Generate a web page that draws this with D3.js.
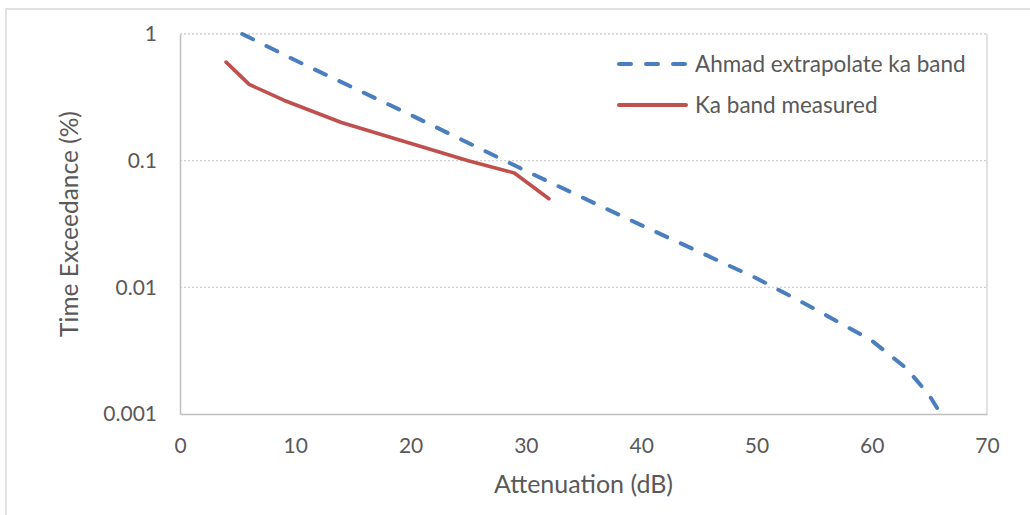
<!DOCTYPE html>
<html>
<head>
<meta charset="utf-8">
<script src="https://cdn.jsdelivr.net/npm/d3@7"></script>
<style>
  html, body { margin: 0; padding: 0; background: #fff; }
  svg { display: block; font-family: Lato, "Open Sans", sans-serif; }
</style>
</head>
<body>
<svg id="chart" width="1030" height="515"></svg>
<script>
// Attenuation (dB) vs time exceedance (%), log scale
const extrapAtten = [5.4, 10, 20, 30, 40, 50, 55, 60, 63, 65, 66];
const extrapPct   = [1, 0.62, 0.23, 0.083, 0.031, 0.0118, 0.0068, 0.0038, 0.0023, 0.0014, 0.001];

const measAtten = [4, 6, 9, 14, 25, 29, 32];
const measPct   = [0.6, 0.4, 0.3, 0.2, 0.1, 0.08, 0.05];

const xTicks = [0, 10, 20, 30, 40, 50, 60, 70];
const yTicks = [0.001, 0.01, 0.1, 1];
const yTickLabels = ["0.001", "0.01", "0.1", "1"];

const seriesNames = ["Ahmad extrapolate ka band", "Ka band measured"];
const xTitle = "Attenuation (dB)";
const yTitle = "Time Exceedance (%)";

const svg = d3.select("#chart");
const plotL = 180, plotR = 987, plotT = 34, plotB = 414;

const x = d3.scaleLinear().domain([0, 70]).range([plotL, plotR]);
const y = d3.scaleLog().domain([0.001, 1]).range([plotB, plotT]);

const textColor = "#595959";

// outer chart border
svg.append("rect")
  .attr("x", 6).attr("y", 9).attr("width", 1040).attr("height", 520)
  .attr("fill", "none").attr("stroke", "#d9d9d9").attr("stroke-width", 1.5);

// horizontal gridlines
svg.append("g").selectAll("line")
  .data(yTicks.filter(v => v > 0.001))
  .join("line")
  .attr("x1", plotL).attr("x2", plotR)
  .attr("y1", d => y(d)).attr("y2", d => y(d))
  .attr("stroke", "#d0d0d0").attr("stroke-width", 1.3)
  .attr("stroke-dasharray", "2,2");

// plot area right edge
svg.append("line")
  .attr("x1", plotR).attr("x2", plotR).attr("y1", plotT).attr("y2", plotB)
  .attr("stroke", "#d9d9d9").attr("stroke-width", 1.5);

// axes
const xAxis = svg.append("g")
  .attr("transform", `translate(0,${plotB})`)
  .call(d3.axisBottom(x).tickValues(xTicks).tickSize(0).tickPadding(24).tickFormat(d3.format("d")));
const yAxis = svg.append("g")
  .attr("transform", `translate(${plotL},0)`)
  .call(d3.axisLeft(y).tickValues(yTicks).tickSize(0).tickPadding(23)
    .tickFormat((d, i) => yTickLabels[i]));

[xAxis, yAxis].forEach(g => {
  g.select(".domain").attr("stroke", "#bfbfbf").attr("stroke-width", 1.5);
  g.selectAll("text").attr("fill", textColor).style("font-size", "21px")
    .style("font-family", "Lato, 'Open Sans', sans-serif");
});

// axis titles
svg.append("text")
  .attr("x", (plotL + plotR) / 2).attr("y", 493)
  .attr("text-anchor", "middle").attr("fill", textColor)
  .style("font-size", "25px").text(xTitle);
svg.append("text")
  .attr("transform", `translate(78,${(plotT + plotB) / 2}) rotate(-90)`)
  .attr("text-anchor", "middle").attr("fill", textColor)
  .style("font-size", "24.5px").text(yTitle);

// series
const line = d3.line().x(d => x(d[0])).y(d => y(d[1]));
const extrap = d3.zip(extrapAtten, extrapPct);
const meas = d3.zip(measAtten, measPct);

svg.append("path").datum(extrap)
  .attr("d", line).attr("fill", "none")
  .attr("stroke", "#4a7ebf").attr("stroke-width", 4)
  .attr("stroke-linecap", "round").attr("stroke-dasharray", "12,15");

svg.append("path").datum(meas)
  .attr("d", line).attr("fill", "none")
  .attr("stroke", "#c0504d").attr("stroke-width", 3.6)
  .attr("stroke-linejoin", "round").attr("stroke-linecap", "round");

// legend
const legend = svg.append("g");
const legendItems = [
  { name: seriesNames[0], color: "#4a7ebf", dash: "12,15", y: 64 },
  { name: seriesNames[1], color: "#c0504d", dash: null, y: 105 }
];
legendItems.forEach(it => {
  legend.append("line")
    .attr("x1", 619).attr("x2", 686).attr("y1", it.y).attr("y2", it.y)
    .attr("stroke", it.color).attr("stroke-width", 4)
    .attr("stroke-linecap", "round")
    .attr("stroke-dasharray", it.dash);
  legend.append("text")
    .attr("x", 695).attr("y", it.y).attr("dy", "0.35em")
    .attr("fill", textColor).style("font-size", "22.5px").text(it.name);
});
</script>
</body>
</html>
